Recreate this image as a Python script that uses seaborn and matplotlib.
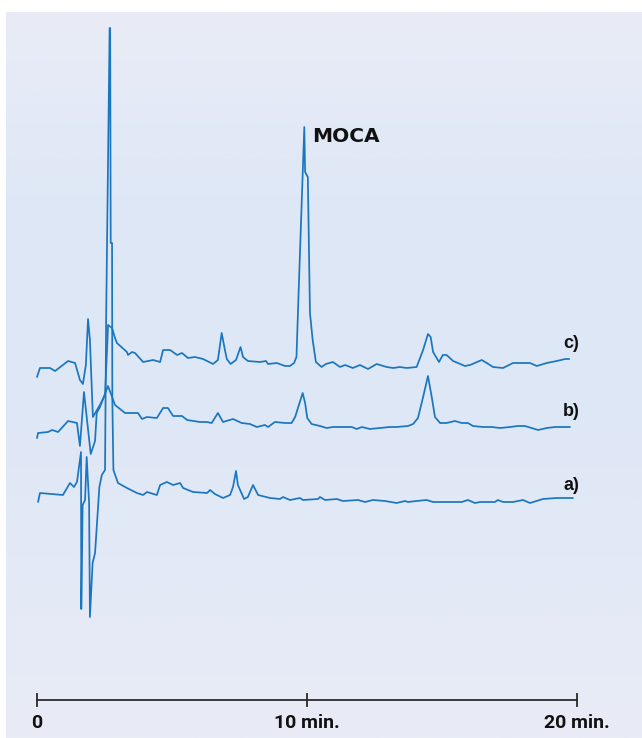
import numpy as np
import pandas as pd
import seaborn as sns
import matplotlib.pyplot as plt
from matplotlib.colors import LinearSegmentedColormap

# retention time (min) and detector response (arbitrary units, relative to baseline)
time_a = [0.04, 0.11, 0.96, 1.22, 1.37, 1.48, 1.63, 1.64, 1.69, 1.78, 1.84, 1.93, 1.96, 2.06,
          2.15, 2.31, 2.40, 2.52, 2.56, 2.69, 2.71, 2.73, 2.78, 2.79, 2.83, 3.00, 3.33, 3.70,
          3.93, 4.07, 4.44, 4.56, 4.81, 5.04, 5.30, 5.41, 5.78, 6.30, 6.41, 6.59, 6.89, 7.15,
          7.26, 7.37, 7.44, 7.67, 7.81, 8.00, 8.19, 8.63, 9.00, 9.11, 9.37, 9.74, 9.85, 10.41,
          10.48, 10.67, 11.10, 11.33, 11.89, 12.15, 12.44, 12.89, 13.32, 13.63, 13.74, 14.06,
          14.43, 14.67, 15.73, 15.96, 16.22, 16.41, 16.96, 17.07, 17.26, 17.63, 18.00, 18.26,
          18.74, 19.25, 19.85]
resp_a = [-2, 7, 5, 17, 13, 18, 48, -109, -5, 0, 43, -3, -117, -63,
          -53, 13, 25, 30, 180, 472, 472, 257, 257, 100, 30, 17, 12, 7,
          5, 8, 5, 15, 18, 15, 17, 12, 8, 7, 10, 6, 2, 5,
          13, 29, 15, 1, 3, 15, 5, 2, 1, 3, 0, 2, 0, 1,
          3, 0, 1, -1, 0, -2, 0, -1, -3, -1, -2, -1,
          0, -2, -2, 0, -3, -2, -2, 0, -2, -2, 0, -3,
          1, 2, 2]

time_b = [0.00, 0.04, 0.41, 0.56, 0.78, 1.15, 1.48, 1.59, 1.74, 1.99, 2.15, 2.21, 2.33, 2.63,
          2.89, 3.26, 3.74, 3.89, 4.07, 4.44, 4.67, 4.85, 5.04, 5.37, 5.56, 6.04, 6.29, 6.47,
          6.70, 6.89, 7.26, 7.58, 7.89, 8.14, 8.44, 8.56, 8.81, 9.19, 9.43, 9.56, 9.84, 9.93,
          10.01, 10.17, 10.48, 10.73, 10.96, 11.47, 11.66, 11.84, 12.03, 12.33, 12.70, 13.07,
          13.32, 13.74, 13.93, 14.11, 14.30, 14.48, 14.62, 14.74, 14.93, 15.17, 15.48, 15.73,
          15.96, 16.15, 16.52, 16.84, 17.15, 17.52, 17.81, 18.07, 18.32, 18.56, 18.88, 19.19,
          19.74]
resp_b = [-11, -6, -5, -3, -5, 6, 4, -19, 35, -27, -14, 14, 20, 41,
          22, 14, 14, 8, 10, 9, 19, 19, 11, 11, 7, 5, 5, 4,
          14, 5, 8, 4, 3, 0, 2, 0, 5, 4, 4, 10, 34, 24,
          9, 3, 1, -1, 0, 0, 0, -2, 0, -2, -1, 0,
          0, 1, 3, 9, 30, 51, 30, 10, 4, 4, 6, 4,
          4, 1, 0, 0, -1, 0, 1, 1, -1, -3, -1, 0,
          0]

time_c = [0.00, 0.11, 0.48, 0.67, 1.15, 1.41, 1.59, 1.70, 1.81, 1.89, 1.96, 2.07, 2.33, 2.52,
          2.61, 2.63, 2.78, 2.89, 2.96, 3.33, 3.37, 3.52, 3.63, 3.93, 4.30, 4.56, 4.67, 4.93,
          5.19, 5.37, 5.59, 5.85, 6.15, 6.52, 6.70, 6.84, 6.96, 7.03, 7.17, 7.37, 7.54, 7.63,
          7.81, 8.26, 8.48, 8.56, 8.88, 9.19, 9.37, 9.52, 9.61, 9.68, 9.90, 9.93, 10.03, 10.11,
          10.21, 10.33, 10.54, 10.70, 10.96, 11.22, 11.41, 11.70, 11.96, 12.26, 12.58, 12.95,
          13.19, 13.44, 13.69, 14.06, 14.30, 14.48, 14.58, 14.67, 14.89, 15.03, 15.17, 15.41,
          15.59, 15.85, 16.04, 16.47, 16.66, 16.89, 17.26, 17.63, 18.00, 18.26, 18.51, 18.88,
          19.25, 19.56, 19.71]
resp_c = [-10, -1, -1, -4, 6, 4, -13, -17, 2, 48, 27, -50, -38, -28,
          27, 42, 39, 29, 24, 15, 12, 15, 14, 5, 7, 5, 17, 17,
          12, 14, 9, 10, 8, 3, 7, 34, 17, 8, 3, 7, 20, 10,
          6, 5, 6, 3, 4, 1, 1, 4, 10, 67, 240, 195, 190, 54,
          27, 5, 0, 3, 5, 0, 2, -1, 2, -2, 3, 0,
          -1, 0, -1, 0, 17, 33, 30, 15, 5, 12, 12, 6,
          4, 1, 2, 7, 4, 0, -1, 4, 4, 4, 1, 4,
          6, 8, 8]

trace_names = ['a)', 'b)', 'c)']
tick_values = [0, 10, 20]
tick_labels = ['0', '10 min.', '20 min.']

# vertical stacking of the chromatograms
offsets = {'a)': 238, 'b)': 311, 'c)': 371}
line_color = '#1a76bf'

frames = []
for name, t, r in zip(trace_names, [time_a, time_b, time_c], [resp_a, resp_b, resp_c]):
    frames.append(pd.DataFrame({'time': t, 'signal': np.array(r) + offsets[name], 'trace': name}))
df = pd.concat(frames, ignore_index=True)

sns.set_style('white')
plt.rcParams['font.family'] = ['DejaVu Sans']

fig = plt.figure(figsize=(6.42, 7.38), dpi=100)

# gradient panel behind the chart
bg = fig.add_axes([6 / 642, 0, 636 / 642, 726 / 738])
grad_cmap = LinearSegmentedColormap.from_list(
    'panel', ['#e9ecf6', '#dfe8f6', '#dde7f6', '#e3e9f6', '#e9ecf6'])
bg.imshow(np.linspace(0, 1, 256).reshape(-1, 1), aspect='auto', cmap=grad_cmap,
          extent=[0, 1, 0, 1])
bg.set_axis_off()

ax = fig.add_axes([0, 0, 1, 1])
ax.patch.set_alpha(0)
sns.lineplot(data=df, x='time', y='signal', hue='trace', units='trace', estimator=None,
             sort=False, palette=[line_color] * 3, linewidth=1.25, legend=False, ax=ax)

ax.set_xlim(-37 / 27, 605 / 27)
ax.set_ylim(0, 738)

# trace labels
label_rise = {'a)': 15, 'b)': 15, 'c)': 24}
for name in trace_names:
    ax.text(19.8, offsets[name] + label_rise[name], name, ha='center', va='center',
            fontsize=13, fontweight='bold', family=['Liberation Sans', 'DejaVu Sans'],
            color='#111111')

ax.text(10.19, 596, 'MOCA', ha='left', va='baseline', fontsize=14.5, fontweight='bold',
        family=['DejaVu Sans'], color='#111111')

# time axis as a floating ruler
for side in ['top', 'right', 'left']:
    ax.spines[side].set_visible(False)
ax.spines['bottom'].set_position(('data', 38))
ax.spines['bottom'].set_bounds(0, 20)
ax.spines['bottom'].set_color('#2b2b2b')
ax.spines['bottom'].set_linewidth(1.3)
ax.set_xticks(tick_values)
ax.set_xticklabels(tick_labels, fontsize=14, fontweight='bold',
                   family=['Roboto', 'DejaVu Sans'])
ax.tick_params(axis='x', bottom=True, direction='inout', length=10, width=1.3,
               color='#2b2b2b', pad=5, labelcolor='#111111')
ax.set_yticks([])
ax.set_xlabel('')
ax.set_ylabel('')

fig.savefig('out.png', dpi=100)
